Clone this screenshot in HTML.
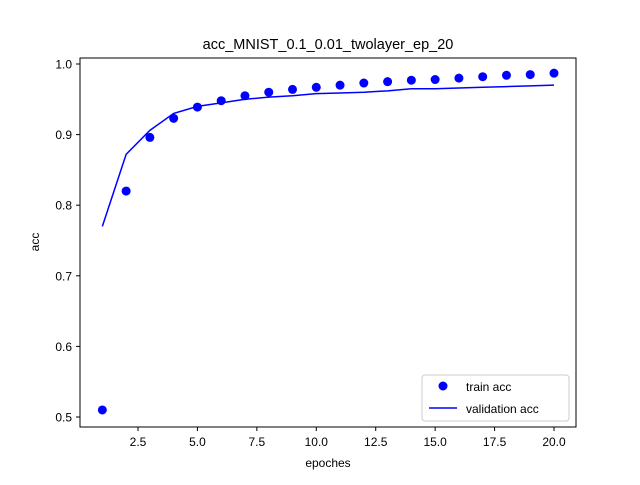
<!DOCTYPE html>
<html><head><meta charset="utf-8"><style>
body{margin:0;background:#fff;}
svg text{font-family:"Liberation Sans","DejaVu Sans",sans-serif;fill:#000;}
</style></head><body>
<svg id="chart" width="640" height="480" xmlns="http://www.w3.org/2000/svg">
<rect x="0" y="0" width="640" height="480" fill="#fff"/>
<text x="328" y="49" font-size="14.5" text-anchor="middle">acc_MNIST_0.1_0.01_twolayer_ep_20</text>
<g id="marks"></g>
<rect x="80" y="58" width="496" height="369" fill="none" stroke="#000" stroke-width="1"/>
<g id="axes"></g>
<text x="328" y="467" font-size="12" text-anchor="middle">epoches</text>
<text x="0" y="0" font-size="12" text-anchor="middle" transform="translate(39,242) rotate(-90)">acc</text>
<g>
<rect x="422" y="375" width="147" height="46" rx="3" fill="#fff" stroke="#ccc"/>
<circle cx="443" cy="386" r="4.5" fill="#0000ff"/>
<text x="466" y="391" font-size="12">train acc</text>
<line x1="429" y1="408" x2="457" y2="408" stroke="#0000ff" stroke-width="1.5"/>
<text x="466" y="413" font-size="12">validation acc</text>
</g>
</svg>
<script>
const epochs=[1,2,3,4,5,6,7,8,9,10,11,12,13,14,15,16,17,18,19,20];
const trainAcc=[0.51,0.82,0.896,0.923,0.939,0.948,0.955,0.960,0.964,0.967,0.970,0.973,0.975,0.977,0.978,0.980,0.982,0.984,0.985,0.987];
const valAcc=[0.77,0.872,0.906,0.930,0.940,0.945,0.950,0.953,0.955,0.958,0.959,0.960,0.962,0.965,0.965,0.966,0.967,0.968,0.969,0.970];
const xTicks=[2.5,5.0,7.5,10.0,12.5,15.0,17.5,20.0];
const yTicks=[0.5,0.6,0.7,0.8,0.9,1.0];
const NS="http://www.w3.org/2000/svg";
function xs(v){return 138+(v-2.5)*(416/17.5);}
function ys(v){return 417-(v-0.5)*706;}
const marks=document.getElementById('marks'),axes=document.getElementById('axes');
function mk(tag,attrs,parent){const e=document.createElementNS(NS,tag);for(const k in attrs)e.setAttribute(k,attrs[k]);parent.appendChild(e);return e;}
const pl=mk('polyline',{points:epochs.map((e,i)=>xs(e)+','+ys(valAcc[i])).join(' '),fill:'none',stroke:'#0000ff','stroke-width':1.5},marks);


epochs.forEach((e,i)=>{const c=mk('circle',{cx:xs(e),cy:ys(trainAcc[i]),r:4.5,fill:'#0000ff'},marks);

});
xTicks.forEach(t=>{const x=xs(t);mk('line',{x1:x,y1:427,x2:x,y2:431,stroke:'#000'},axes);
const tx=mk('text',{x:x,y:446,'font-size':12,'text-anchor':'middle'},axes);tx.textContent=t.toFixed(1);

});
yTicks.forEach(t=>{const y=ys(t);mk('line',{x1:76,y1:y,x2:80,y2:y,stroke:'#000'},axes);
const tx=mk('text',{x:72,y:y+4.5,'font-size':12,'text-anchor':'end'},axes);tx.textContent=t.toFixed(1);

});
</script>
</body></html>
